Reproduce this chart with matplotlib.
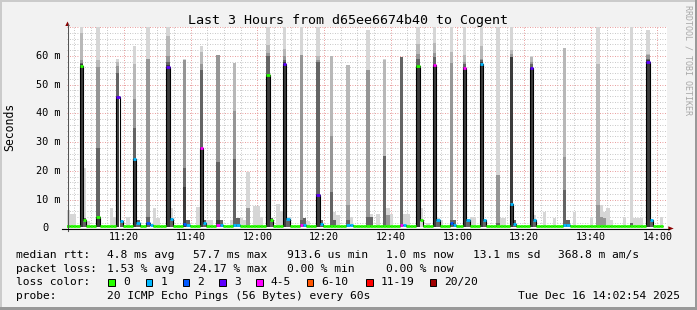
import numpy as np
import matplotlib
matplotlib.use("Agg")
import matplotlib.pyplot as plt
from matplotlib.lines import Line2D
from matplotlib.patches import Rectangle, Polygon
from matplotlib.transforms import blended_transform_factory

W, H, DPI = 697, 310, 100
MONO = "DejaVu Sans Mono"

# time axis in minutes after 11:00
T_START, T_END = 2.9, 182.9          # 11:02:54 .. 14:02:54
Y_MAX = 70.0                         # ms
BUCKET = -0.35                       # rrd buckets start ~21 s before the minute

title = "Last 3 Hours from d65ee6674b40 to Cogent"
x_ticks = [20, 40, 60, 80, 100, 120, 140, 160, 180]
x_labels = ["11:20", "11:40", "12:00", "12:20", "12:40", "13:00", "13:20", "13:40", "14:00"]
y_ticks = [10, 20, 30, 40, 50, 60]
y_labels = ["10 m", "20 m", "30 m", "40 m", "50 m", "60 m"]

# data buckets (minute numbers) and the usual median
first_min, last_min = 3, 181
base_med = 0.9

# medians that differ from the baseline, with the number of lost pings
med_min = [7, 8, 12, 18, 19, 23, 24, 27, 28, 33, 34, 38, 39, 43, 44, 48, 49, 53, 54,
           63, 64, 68, 69, 73, 74, 78, 79, 87, 88, 103, 104, 108, 109, 113, 114,
           118, 119, 122, 123, 127, 128, 136, 137, 142, 143, 152, 153, 177, 178]
med_ms = [56.5, 3.0, 4.0, 45.7, 2.6, 24.0, 2.0, 1.8, 1.0, 56.2, 3.2, 1.6, 1.0, 27.8, 2.0,
          1.0, 1.0, 1.0, 1.0, 53.3, 2.9, 57.3, 3.1, 1.0, 1.0, 11.5, 1.5, 1.0, 1.0, 1.0,
          1.0, 56.4, 2.9, 56.7, 3.0, 1.8, 1.0, 55.6, 3.0, 57.3, 3.0, 8.4, 1.5, 55.6, 3.0,
          1.0, 1.0, 58.0, 3.0]
med_loss = [0, 0, 0, 3, 1, 1, 1, 2, 1, 3, 1, 2, 1, 4, 1, 4, 1, 1, 1,
            0, 0, 3, 1, 4, 1, 3, 1, 1, 1, 4, 1, 0, 0, 4, 1,
            2, 1, 4, 1, 1, 1, 1, 1, 3, 1, 1, 1, 3, 1]

# smoke: top (ms) of each gray band, lightest first (0 = band not visible)
smoke_min = [3, 4, 5, 7, 8, 9, 12, 16, 17, 18, 19, 21, 23, 24, 27, 29, 30, 33, 34, 38,
             39, 42, 43, 44, 45, 46, 48, 49, 52, 53, 54, 55, 56, 57, 59, 60, 61, 63, 64,
             66, 67, 68, 69, 73, 74, 75, 78, 79, 82, 83, 84, 87, 88, 93, 94, 96, 98, 99,
             100, 103, 104, 105, 108, 109, 111, 113, 114, 115, 118, 119, 122, 123, 124,
             125, 127, 128, 132, 133, 134, 136, 137, 142, 143, 146, 149, 152, 153, 155,
             160, 162, 163, 164, 165, 166, 170, 172, 173, 174, 175, 177, 178, 181]
smoke_l1 = [6.5, 5, 5, 70, 21, 2.5, 70, 7, 4, 59, 0, 4, 63.5, 0, 70, 7, 3.5, 70, 7, 59,
            0, 7.3, 63.5, 0, 3, 3, 0, 0, 3, 0, 0, 3.5, 3, 19.7, 7.8, 7.8, 4, 70, 0,
            8.5, 6, 70, 4, 70, 2.8, 2.5, 70, 0, 0, 5.5, 4.5, 0, 4, 69, 5, 5, 58.8, 7,
            5, 0, 5, 5, 70, 7, 2, 70, 3.5, 3, 70, 0, 70, 0, 4,
            4, 70, 3, 70, 3.5, 3.5, 70, 0, 60, 4.6, 5.5, 3.5, 0, 0, 5.5,
            4, 70, 8, 5.5, 7, 3, 4, 70, 3.5, 3.5, 3.5, 69, 0, 4]
smoke_l2 = [0, 0, 0, 68, 0, 0, 58.5, 0, 0, 58, 0, 0, 57, 0, 0, 0, 0, 67, 0, 0,
            0, 0, 61.4, 0, 0, 0, 0, 0, 0, 57.5, 0, 0, 0, 0, 0, 0, 0, 63.7, 0,
            0, 0, 62.5, 0, 0, 0, 0, 60, 0, 60, 0, 0, 56.7, 0, 0, 0, 0, 58.4, 0,
            0, 0, 0, 0, 64, 0, 0, 64.5, 0, 0, 61.4, 0, 60.2, 0, 0,
            0, 63.5, 0, 0, 0, 0, 62, 0, 59.5, 0, 0, 0, 62.8, 0, 0,
            0, 57.3, 0, 0, 0, 0, 0, 0, 0, 0, 0, 60.5, 0, 0]
smoke_l3 = [0, 0, 0, 58.5, 0, 0, 56, 0, 0, 56.5, 0, 0, 45, 0, 59, 0, 0, 60, 0, 58.5,
            0, 0, 57, 0, 0, 0, 60.4, 0, 0, 40.7, 0, 0, 0, 7, 0, 0, 0, 61, 0,
            0, 0, 60, 0, 60.2, 0, 0, 58.5, 0, 32, 0, 0, 8, 0, 55, 0, 0, 0, 4.5,
            0, 0, 0, 0, 60.5, 0, 0, 61, 0, 0, 57.5, 0, 58, 0, 0,
            0, 59, 0, 18.5, 0, 0, 60.5, 0, 58, 0, 0, 0, 24.9, 0, 0,
            0, 8, 4, 3.5, 0, 0, 0, 0, 0, 0, 0, 60.2, 0, 0]
smoke_l4 = [0, 0, 0, 57.5, 3.5, 0, 28, 0, 0, 54, 3, 0, 35, 3, 4, 0, 0, 58, 3.5, 21,
            3, 0, 55, 3, 0, 0, 23, 3, 0, 24, 3.5, 0, 0, 0, 0, 0, 0, 60, 3.5,
            0, 0, 58.5, 3, 3, 3.5, 0, 58, 3, 12.7, 3, 0, 3, 0, 4, 4, 0, 25, 0,
            0, 59.7, 0, 0, 59, 0, 0, 59.5, 3, 0, 3, 3, 57, 3, 0,
            0, 58.5, 3, 2, 0, 0, 59.7, 3, 57, 3, 0, 0, 13.3, 3, 0,
            0, 0, 0, 0, 0, 0, 0, 2, 0, 0, 0, 59, 3, 0]
smoke_l5 = [0, 0, 0, 57, 0, 0, 4, 0, 0, 46, 0, 0, 24.5, 0, 0, 0, 0, 56.7, 0, 14.5,
            0, 0, 28.3, 0, 0, 0, 3, 0, 0, 0, 0, 0, 0, 0, 0, 0, 0, 53.8, 0,
            0, 0, 57.8, 0, 0, 0, 0, 12, 0, 0, 0, 0, 0, 0, 0, 0, 0, 0, 0,
            0, 0, 0, 0, 56.9, 0, 0, 57.2, 0, 0, 0, 0, 56.1, 0, 0,
            0, 57.8, 0, 0, 0, 0, 59.7, 0, 56.1, 0, 0, 0, 0, 0, 0,
            0, 0, 0, 0, 0, 0, 0, 0, 0, 0, 0, 58.4, 0, 0]

loss_names = ["0", "1", "2", "3", "4-5", "6-10", "11-19", "20/20"]
loss_upper = [0, 1, 2, 3, 5, 10, 19, 20]
loss_colors = ["#26ff00", "#00b8ff", "#0059ff", "#5e00ff", "#ff00ff", "#ff5500", "#ff0000", "#a10000"]

rtt_stats = ["4.8 ms avg", "57.7 ms max", "913.6 us min", "1.0 ms now", "13.1 ms sd", "368.8 m am/s"]
loss_stats = ["1.53 % avg", "24.17 % max", "0.00 % min", "0.00 % now"]
probe_txt = "20 ICMP Echo Pings (56 Bytes) every 60s"
stamp_txt = "Tue Dec 16 14:02:54 2025"


def fx(x):
    return x / W


def fy(y):
    return 1 - y / H


fig = plt.figure(figsize=(W / DPI, H / DPI), dpi=DPI)
fig.patch.set_facecolor("#f2f2f2")
# 3d frame
fig.add_artist(Rectangle((0, fy(2)), 1, 2 / H, transform=fig.transFigure, color="#cbcbcb", lw=0))
fig.add_artist(Rectangle((0, 0), 2 / W, 1, transform=fig.transFigure, color="#cbcbcb", lw=0))
fig.add_artist(Rectangle((0, 0), 1, 3 / H, transform=fig.transFigure, color="#999999", lw=0))
fig.add_artist(Rectangle((fx(695), 0), 2 / W, 1, transform=fig.transFigure, color="#999999", lw=0))

ax = fig.add_axes([fx(67), fy(228.3), 600 / W, (228.3 - 27.05) / H])
ax.set_facecolor("white")
ax.set_xlim(T_START, T_END)
ax.set_ylim(0, Y_MAX)
for sp in ax.spines.values():
    sp.set_visible(False)
ax.set_xticks(x_ticks)
ax.set_xticks(np.arange(5, 181, 5), minor=True)
ax.set_yticks(np.arange(0, 71, 10))
ax.set_yticks(np.arange(0, 71, 2), minor=True)
ax.tick_params(which="both", length=0, labelbottom=False, labelleft=False)
ax.grid(which="minor", color="#b4b4b4", lw=0.6, ls=(0, (1, 2)))
ax.grid(which="major", color="#e07a7a", lw=0.6, ls=(0, (1, 2)))
ax.set_axisbelow(True)

# smoke bands
shades = ["#d6d6d6", "#b8b8b8", "#969696", "#646464", "#3c3c3c"]
left = np.array(smoke_min, float) + BUCKET
for tops, c in zip([smoke_l1, smoke_l2, smoke_l3, smoke_l4, smoke_l5], shades):
    tops = np.array(tops, float)
    keep = tops > 0
    ax.bar(left[keep], tops[keep] - 0.6, width=1.0, bottom=0.6, align="edge",
           color=c, lw=0, zorder=2)

# median line, coloured by loss
mins = np.arange(first_min, last_min + 1)
med = np.full(len(mins), base_med)
loss = np.zeros(len(mins), int)
idx = np.array(med_min) - first_min
med[idx] = med_ms
loss[idx] = med_loss
edges = np.append(mins + BUCKET, mins[-1] + 1 + BUCKET)
ax.stairs(med, edges, baseline=None, color="black", lw=0.8, zorder=3)
cols = [loss_colors[i] for i in np.searchsorted(loss_upper, loss)]
ax.hlines(med, edges[:-1], edges[1:], colors=cols, lw=2.0, zorder=4, capstyle="butt")

# axes and arrows
fig.add_artist(Line2D([fx(67.5), fx(67.5)], [fy(231), fy(24)], color="#555555", lw=0.8))
fig.add_artist(Line2D([fx(62), fx(669)], [fy(228.5), fy(228.5)], color="black", lw=0.8))
fig.add_artist(Polygon([(fx(65.3), fy(26)), (fx(69.7), fy(26)), (fx(67.5), fy(21.5))],
                       transform=fig.transFigure, color="#8b0000", lw=0))
fig.add_artist(Polygon([(fx(668.3), fy(226.3)), (fx(668.3), fy(230.7)), (fx(673.7), fy(228.5))],
                       transform=fig.transFigure, color="#8b0000", lw=0))

# tick labels
tx = blended_transform_factory(ax.transData, fig.transFigure)
for v, lab in zip(x_ticks, x_labels):
    ax.text(v, fy(240.5), lab, transform=tx, ha="center", va="baseline",
            fontsize=7.2, family=MONO, clip_on=False)
ty = blended_transform_factory(fig.transFigure, ax.transData)
for v, lab in zip(y_ticks, y_labels):
    ax.text(fx(36), v, lab, transform=ty, ha="left", va="center",
            fontsize=7.4, family=MONO, clip_on=False)
ax.text(fx(42.5), 0, "0", transform=ty, ha="left", va="center", fontsize=7.4, family=MONO)

fig.text(fx(10), fy(127), "Seconds", rotation=90, ha="center", va="center",
         fontsize=8.3, family=MONO)
fig.text(fx(347.5), fy(24), title, ha="center", va="baseline", fontsize=9.6, family=MONO)
fig.text(fx(688), fy(5), "RRDTOOL / TOBI OETIKER", rotation=270, ha="center", va="top",
         fontsize=6, family=MONO, color="#a8a8a8")

# legend
LF = 8.1
rows_y = [258, 271.7, 285.3, 299.3]
stat_x = [107.3, 193.3, 286.7, 386.3, 473, 558]
fig.text(fx(16.3), fy(rows_y[0]), "median rtt:", fontsize=LF, family=MONO, va="baseline")
for s, x in zip(rtt_stats, stat_x):
    fig.text(fx(x), fy(rows_y[0]), s, fontsize=LF, family=MONO, va="baseline")
fig.text(fx(16.3), fy(rows_y[1]), "packet loss:", fontsize=LF, family=MONO, va="baseline")
for s, x in zip(loss_stats, stat_x):
    fig.text(fx(x), fy(rows_y[1]), s, fontsize=LF, family=MONO, va="baseline")
fig.text(fx(16.3), fy(rows_y[2]), "loss color:", fontsize=LF, family=MONO, va="baseline")
box_x = [108.3, 145.7, 182.7, 219.3, 256, 306.7, 366, 429.7]
for name, c, x in zip(loss_names, loss_colors, box_x):
    fig.add_artist(Rectangle((fx(x), fy(285.7)), 6.7 / W, 7 / H, transform=fig.transFigure,
                             facecolor=c, edgecolor="black", lw=0.7))
    fig.text(fx(x + 14.8), fy(rows_y[2]), name, fontsize=LF, family=MONO, va="baseline")
fig.text(fx(16.3), fy(rows_y[3]), "probe:", fontsize=LF, family=MONO, va="baseline")
fig.text(fx(107.3), fy(rows_y[3]), probe_txt, fontsize=LF, family=MONO, va="baseline")
fig.text(fx(680.3), fy(rows_y[3]), stamp_txt, fontsize=LF, family=MONO, va="baseline", ha="right")

fig.savefig("out.png", dpi=DPI, facecolor=fig.get_facecolor())
